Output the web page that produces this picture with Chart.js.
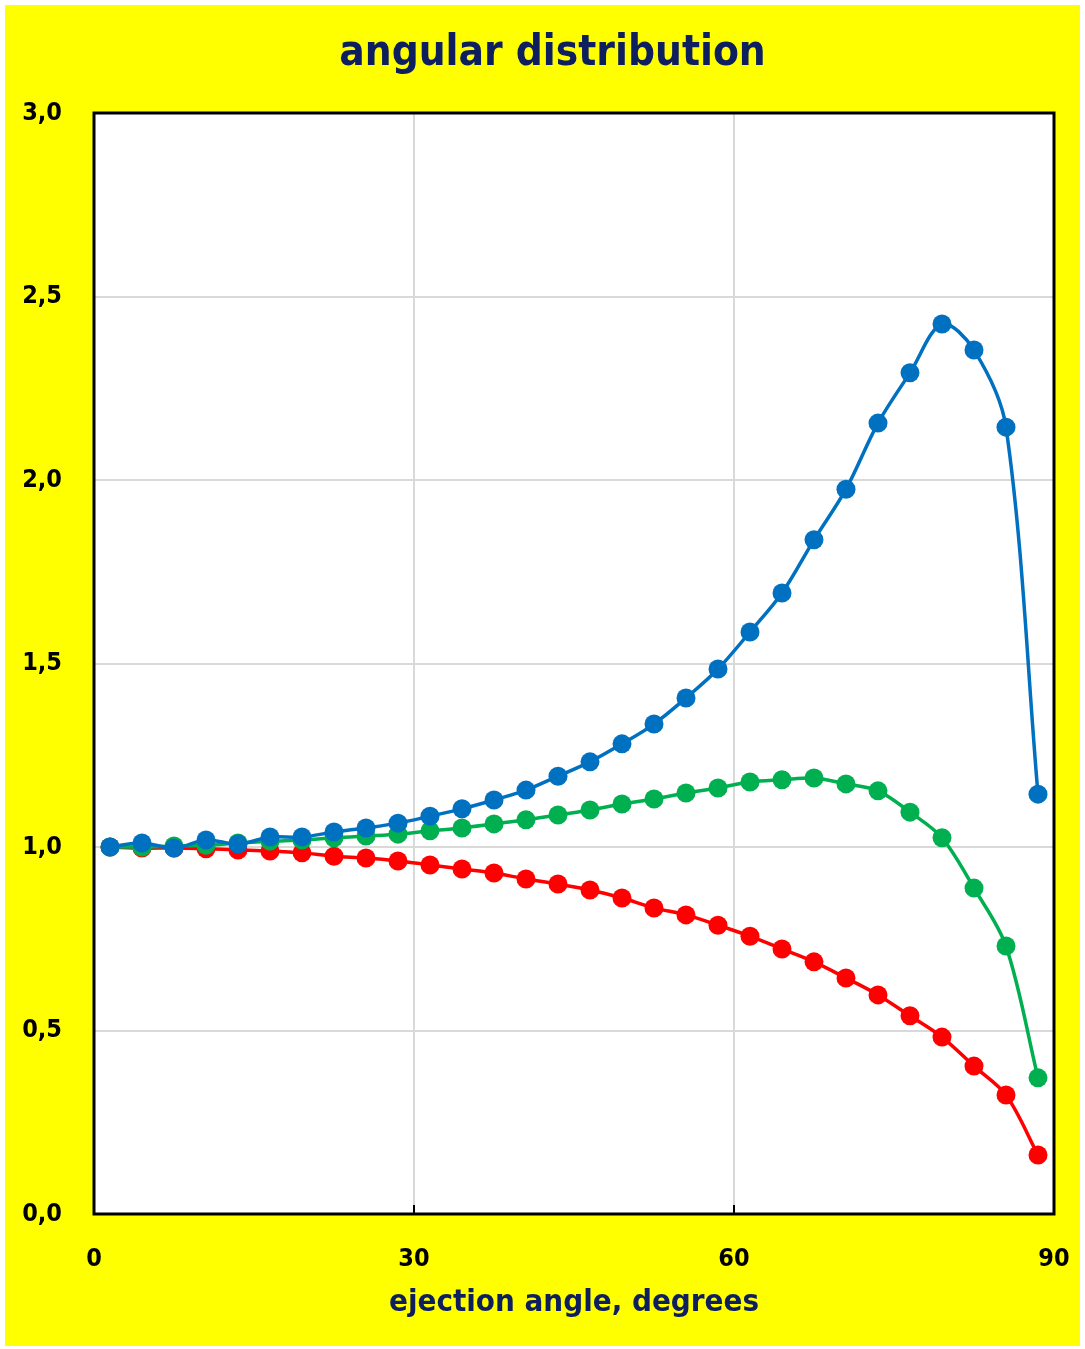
<!DOCTYPE html>
<html>
<head>
<meta charset="utf-8">
<script src="https://cdn.jsdelivr.net/npm/chart.js@4/dist/chart.umd.min.js"></script>
<style>
    html, body { margin: 0; padding: 0; background: #fff; }
    #wrap { position: absolute; left: 5px; top: 5px; width: 1075px; height: 1341px; background: #FFFF00; }
</style>
</head>
<body>
<div id="wrap"><canvas id="angularChart" width="1075" height="1341"></canvas></div>
<script>
// ejection angle, degrees
const angles = [1.5, 4.5, 7.5, 10.5, 13.5, 16.5, 19.5, 22.5, 25.5, 28.5,
    31.5, 34.5, 37.5, 40.5, 43.5, 46.5, 49.5, 52.5, 55.5, 58.5,
    61.5, 64.5, 67.5, 70.5, 73.5, 76.5, 79.5, 82.5, 85.5, 88.5];

const blueSeries = [1.000, 1.011, 0.997, 1.019, 1.008, 1.027, 1.027, 1.041, 1.052, 1.065,
    1.084, 1.104, 1.128, 1.155, 1.193, 1.232, 1.281, 1.335, 1.406, 1.485,
    1.586, 1.692, 1.837, 1.975, 2.155, 2.292, 2.425, 2.354, 2.144, 1.144];

const greenSeries = [1.000, 1.000, 1.003, 1.005, 1.011, 1.016, 1.019, 1.025, 1.030, 1.035,
    1.044, 1.052, 1.063, 1.074, 1.087, 1.101, 1.117, 1.131, 1.147, 1.161,
    1.177, 1.183, 1.188, 1.172, 1.153, 1.095, 1.025, 0.888, 0.730, 0.371];

const redSeries = [1.000, 0.997, 0.997, 0.995, 0.992, 0.989, 0.984, 0.975, 0.970, 0.962,
    0.951, 0.940, 0.929, 0.913, 0.899, 0.883, 0.861, 0.834, 0.815, 0.787,
    0.757, 0.722, 0.687, 0.643, 0.597, 0.540, 0.482, 0.403, 0.324, 0.161];

const xTicks = [0, 30, 60, 90];
const yTicks = [0, 0.5, 1, 1.5, 2, 2.5, 3];

const TITLE = 'angular distribution';
const FONT = '"DejaVu Sans Condensed", "DejaVu Sans", sans-serif';
const NAVY = '#0D1F5E';

function toPoints(ys) {
    return angles.map((x, i) => ({ x, y: ys[i] }));
}

function makeSet(ys, color) {
    return {
        data: toPoints(ys),
        borderColor: color,
        backgroundColor: color,
        pointBackgroundColor: color,
        pointBorderColor: color,
        borderWidth: 3.5,
        pointRadius: 9.5,
        pointBorderWidth: 0,
        tension: 0.33,
        fill: false
    };
}

// white plot area, black frame, short inward x ticks, and the chart title
const plotFrame = {
    id: 'plotFrame',
    beforeDraw(chart) {
        const { ctx, chartArea: a } = chart;
        ctx.save();
        ctx.fillStyle = '#fff';
        ctx.fillRect(a.left, a.top, a.right - a.left, a.bottom - a.top);
        ctx.restore();
    },
    afterDatasetsDraw(chart) {
        const { ctx, chartArea: a } = chart;
        const xs = chart.scales.x;
        ctx.save();
        ctx.strokeStyle = '#000';
        ctx.lineWidth = 3;
        ctx.strokeRect(a.left, a.top, a.right - a.left, a.bottom - a.top);
        ctx.lineWidth = 2;
        xTicks.slice(1, -1).forEach(v => {
            const px = Math.round(xs.getPixelForValue(v));
            ctx.beginPath();
            ctx.moveTo(px, a.bottom);
            ctx.lineTo(px, a.bottom - 9);
            ctx.stroke();
        });
        ctx.fillStyle = NAVY;
        ctx.font = 'bold 42px ' + FONT;
        ctx.textAlign = 'center';
        ctx.textBaseline = 'middle';
        ctx.fillText(TITLE, chart.width / 2 + 10, 49);
        ctx.restore();
    }
};

new Chart(document.getElementById('angularChart').getContext('2d'), {
    type: 'line',
    data: {
        datasets: [
            makeSet(blueSeries, '#0070C0'),
            makeSet(greenSeries, '#00B050'),
            makeSet(redSeries, '#FF0000')
        ]
    },
    options: {
        responsive: false,
        animation: false,
        layout: { padding: { left: 0, right: 26, top: 108, bottom: 0 } },
        plugins: {
            legend: { display: false },
            tooltip: { enabled: false },
            title: { display: false }
        },
        scales: {
            x: {
                type: 'linear',
                min: 0,
                max: 90,
                afterBuildTicks: s => { s.ticks = xTicks.map(v => ({ value: v })); },
                afterFit: s => { s.height = 132; },
                ticks: {
                    color: '#000',
                    padding: 2,
                    maxRotation: 0,
                    font: { family: FONT, size: 25, weight: 'bold', lineHeight: 1.2 }
                },
                grid: { color: '#D9D9D9', lineWidth: 2, drawTicks: true, tickLength: 28, tickColor: 'rgba(0,0,0,0)' },
                border: { display: false },
                title: {
                    display: true,
                    text: 'ejection angle, degrees',
                    color: NAVY,
                    font: { family: FONT, size: 31, weight: 'bold', lineHeight: 1.2 },
                    padding: { top: 0, bottom: 24 }
                }
            },
            y: {
                min: 0,
                max: 3,
                afterBuildTicks: s => { s.ticks = yTicks.map(v => ({ value: v })); },
                afterFit: s => { s.width = 89; },
                ticks: {
                    color: '#000',
                    padding: 32,
                    font: { family: FONT, size: 25, weight: 'bold', lineHeight: 1.2 },
                    callback: v => Number(v).toFixed(1).replace('.', ',')
                },
                grid: { color: '#D9D9D9', lineWidth: 2, drawTicks: false },
                border: { display: false }
            }
        }
    },
    plugins: [plotFrame]
});
</script>
</body>
</html>
